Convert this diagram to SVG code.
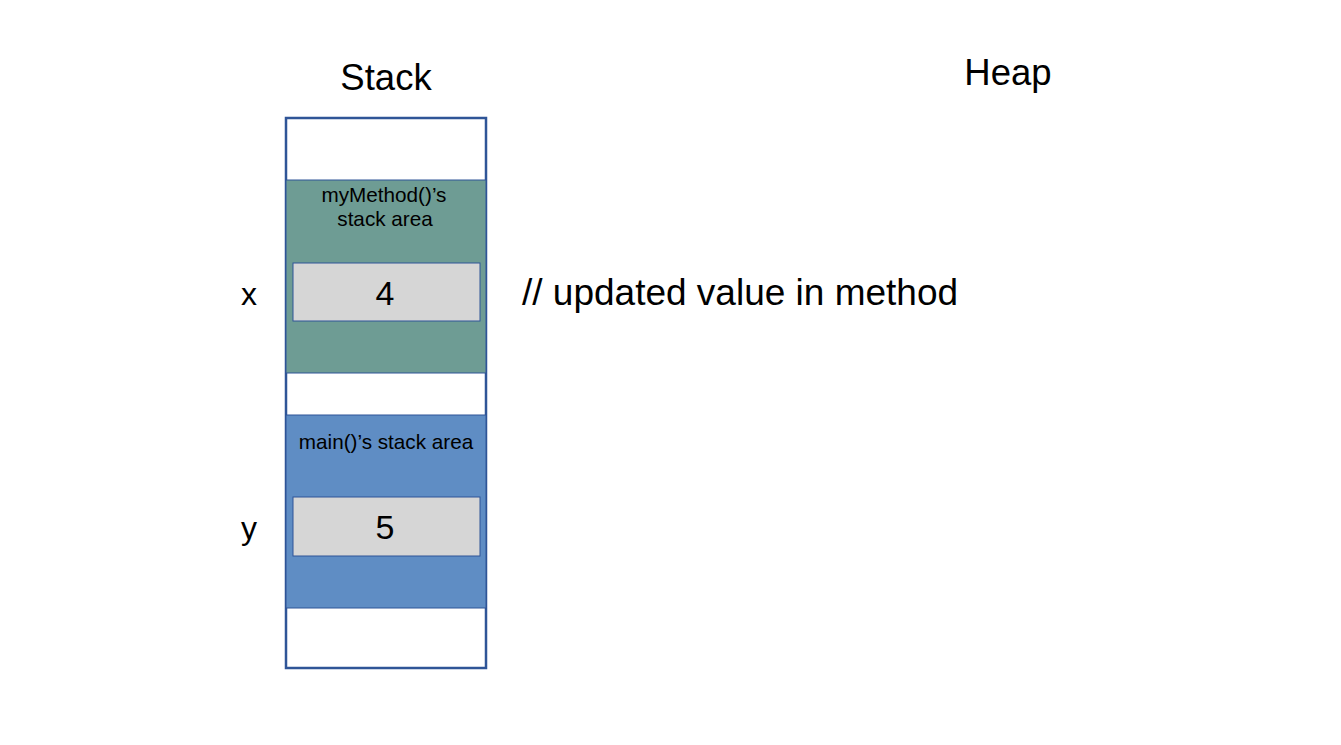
<svg xmlns="http://www.w3.org/2000/svg" width="1341" height="745" viewBox="0 0 1341 745">
<style>
text{font-family:"Liberation Sans",Arial,sans-serif;fill:#000}
.big{font-size:36.5px;text-anchor:middle}
.var{font-size:32px;text-anchor:middle}
.small{font-size:20.7px;text-anchor:middle}
.val{font-size:34px;text-anchor:middle}
.cell{fill:#d6d6d6;stroke:#2f5597;stroke-width:1}
</style>
<rect width="1341" height="745" fill="#fff"/>
<text class="big" x="386" y="90">Stack</text>
<text class="big" x="1008" y="85">Heap</text>
<g id="stack">
<rect x="286" y="118" width="200" height="550" fill="#fff" stroke="#2f5597" stroke-width="2.5"/>
</g>
<g id="mymethod-area">
<rect x="286" y="180" width="200" height="193" fill="#6e9c94" stroke="#2f5597" stroke-width="1"/>
<text class="small" x="384" y="202">myMethod()’s</text>
<text class="small" x="385" y="226">stack area</text>
</g>
<g id="main-area">
<rect x="286" y="415" width="200" height="193" fill="#5f8dc4" stroke="#2f5597" stroke-width="1"/>
<text class="small" x="386" y="449">main()’s stack area</text>
</g>
<g id="x-cell">
<rect class="cell" x="293" y="263" width="187" height="58"/>
<text class="val" x="385" y="305">4</text>
<text class="var" x="249" y="305">x</text>
</g>
<g id="y-cell">
<rect class="cell" x="293" y="497" width="187" height="59"/>
<text class="val" x="385" y="539">5</text>
<text class="var" x="249" y="539">y</text>
</g>
<g id="connectors"/>
<text x="522" y="305" font-size="37">// updated value in method</text>
</svg>
